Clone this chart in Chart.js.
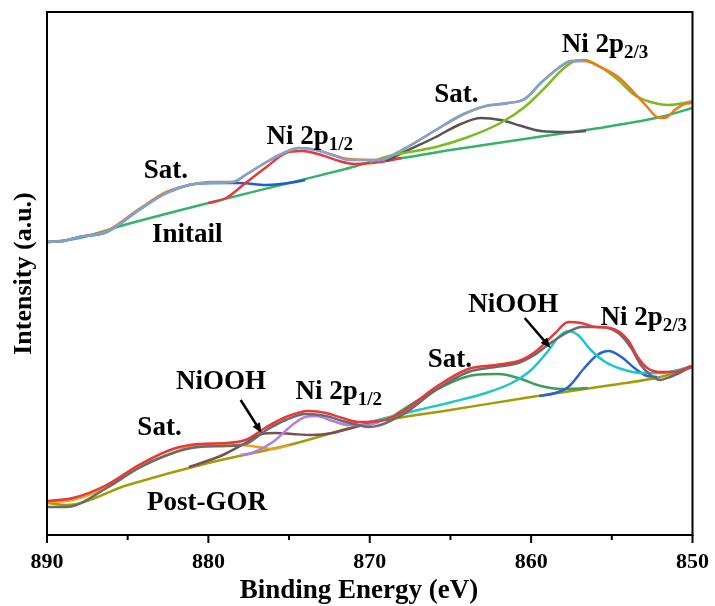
<!DOCTYPE html>
<html lang="en">
<head>
  <meta charset="UTF-8">
  <title>Ni 2p XPS</title>
  <style>
    html, body { margin: 0; padding: 0; background: #fff; overflow: hidden; }
    canvas { display: block; }
  </style>
  <script src="https://cdn.jsdelivr.net/npm/chart.js"></script>
</head>
<body>
  <canvas id="xps" width="715" height="606"></canvas>
  <script>
    // binding energy ticks (eV)
    const energyTicks = [890, 880, 870, 860, 850];

    // ---- Initial sample: [energy, intensity a.u.] ----
    const initBg = [[890,293],[889.2,294],[888,297],[885,311],[880,332],[875,352],[871.5,366],[869.4,375],[868,377],[865,385],[860,397],[855,409],[852,418],[850,427]];
    const initRaw = [[890,293],[889,294],[888,298],[886.3,304],[884.3,326],[882.6,343],[881.2,350],[879.8,353],[878.5,353],[877.7,360],[876.4,373],[875.2,383],[874.4,387],[873.3,385],[872.3,380],[871.3,376],[869.4,375],[868,385],[865.9,405],[864.3,420],[862.8,429],[861.4,432],[860.4,436],[859.4,452],[858.3,467],[857.5,474],[856.7,474],[855.7,468],[854.6,458],[853.6,442],[852.8,428],[852.2,418],[851.7,417],[851.1,425],[850.5,431],[850,432]];
    const initFit = [[890,293],[889,294],[888,298],[886.3,303],[884.3,325],[882.6,342],[881.2,350],[879.8,352],[878.5,353],[877.7,360],[876.4,373],[875.2,383],[874.4,387],[873.3,385],[872.3,380],[871.3,375],[869.4,375],[868,385],[865.9,405],[864.3,420],[862.8,429],[861.4,432],[860.4,436],[859.4,452],[858.3,467],[857.5,474],[856.7,474]];
    const initSat1 = [[890,293],[889,294],[888,298],[886.3,303],[884.3,325],[882.6,342],[881.2,350],[879.8,352],[878.1,352],[876.4,350],[874.6,353],[874,355]];
    const initP12 = [[880,332],[878.9,337],[877.7,352],[876.4,368],[875.2,382],[874.2,384],[873,380],[871.9,374],[870.9,371],[869.4,373],[868,377]];
    const initSat2 = [[869,374],[868,382],[865.9,398],[864.5,410],[863.1,417],[861.9,415],[860.6,409],[859.4,404],[857.7,403],[856.6,404]];
    const initP32 = [[870,373],[868.8,379],[865.9,388],[863.9,398],[861.9,412],[860.4,428],[859.1,448],[858.1,465],[857.3,474],[856.7,475],[855.7,468],[854.6,455],[853.6,440],[852.6,433],[851.5,430],[850.5,432],[850,434]];

    // ---- Post-GOR sample ----
    const postBg = [[890,32],[888.8,30],[885,50],[880,72],[875,90],[870,112],[865,125],[860,138],[855,150],[852,158],[850,168]];
    const postRaw = [[890,28],[888.8,28],[886.3,47],[884.3,67],[882.2,82],[880.6,88],[878.9,89],[877.7,91],[876.4,105],[875.2,115],[874,121],[872.7,119],[871.7,114],[870.7,110],[870.1,108],[868,120],[865.9,145],[863.9,163],[862.2,168],[860.8,172],[859.8,180],[858.8,192],[857.7,203],[856.9,208],[855.7,208],[854.6,202],[853.8,187],[853.2,170],[852.6,160],[852,155],[851.4,158],[850.7,163],[850.1,168]];
    const postFit = [[890,34],[888.4,37],[886.3,50],[884.3,70],[882.2,86],[880.6,91],[878.9,92],[877.7,95],[876.4,108],[875.2,118],[873.8,124],[872.7,122],[871.7,117],[870.7,113],[869.4,114],[868,123],[865.9,148],[863.9,166],[862.2,170],[860.6,175],[859.6,185],[858.5,202],[857.7,213],[856.9,212],[856,208],[855.1,207],[854,195],[853.4,178],[852.8,167],[852,163],[851.1,163],[850.1,169]];
    const postSat1 = [[890,33],[888.4,35],[886.3,48],[884.3,68],[882.2,82],[881.2,88],[879.8,90],[878.1,90],[876.9,88],[876,86],[875,90]];
    const postNiOOH12 = [[881.2,68],[879.1,80],[877.7,92],[876.7,101],[875.8,102],[874.8,101],[873.6,100],[872.3,102],[870.9,108],[869.9,112]];
    const postP12 = [[878,80],[877.3,82],[876,93],[874.8,110],[874,118],[873.3,119],[872.3,114],[871.3,110],[870.2,110],[869.4,113]];
    const postSat2 = [[869,114],[867,135],[864.9,153],[863.5,160],[862,161],[860.8,157],[859.4,149],[858.1,146],[856.5,147]];
    const postNiOOH32 = [[870,113],[869,117],[867,125],[864.9,133],[862.8,142],[861.2,152],[860,165],[859,183],[858.3,198],[857.7,204],[857.1,200],[856.3,185],[855.4,173],[854.4,166],[853.2,162],[852,162],[850.9,165],[850,169]];
    const postP32 = [[859.5,139],[858.5,142],[857.7,148],[856.7,167],[855.9,180],[855.2,184],[854.4,178],[853.6,167],[852.8,159],[852.2,158]];

    // text labels and arrows (placed in data units)
    const labels = [
      { text: 'Ni 2p', sub: '2/3', e: 858.1, v: 490 },
      { text: 'Sat.', e: 866.0, v: 440 },
      { text: 'Ni 2p', sub: '1/2', e: 876.4, v: 398 },
      { text: 'Sat.', e: 884.0, v: 364 },
      { text: 'Initail', e: 883.5, v: 300 },
      { text: 'NiOOH', e: 882.0, v: 153 },
      { text: 'Ni 2p', sub: '1/2', e: 874.6, v: 143 },
      { text: 'Sat.', e: 884.4, v: 107 },
      { text: 'Post-GOR', e: 883.8, v: 32 },
      { text: 'NiOOH', e: 863.9, v: 230 },
      { text: 'Sat.', e: 866.4, v: 175 },
      { text: 'Ni 2p', sub: '2/3', e: 855.7, v: 217 }
    ];
    const arrows = [
      { from: [878.0, 135], to: [876.7, 102] },
      { from: [860.4, 217], to: [858.8, 187] }
    ];

    function toXY(arr) {
      return arr.map(p => ({ x: p[0], y: p[1] }));
    }

    function serie(data, color) {
      return {
        data: toXY(data),
        borderColor: color,
        borderWidth: 2.5,
        pointRadius: 0,
        fill: false,
        cubicInterpolationMode: 'monotone'
      };
    }

    const SERIF = "'Liberation Serif', 'Times New Roman', serif";

    const decor = {
      id: 'decor',
      afterDraw(chart) {
        const { ctx, chartArea: a, scales: { x, y } } = chart;
        ctx.save();
        ctx.strokeStyle = '#000';
        ctx.lineWidth = 2;
        ctx.strokeRect(a.left, a.top, a.right - a.left, a.bottom - a.top);
        // tick marks, major every 10, minor every 5
        for (let e = 850; e <= 890; e += 5) {
          const px = x.getPixelForValue(e);
          ctx.beginPath();
          ctx.moveTo(px, a.bottom);
          ctx.lineTo(px, a.bottom + (e % 10 === 0 ? 8 : 5));
          ctx.stroke();
        }
        ctx.fillStyle = '#000';
        // x axis title
        ctx.textAlign = 'center';
        ctx.textBaseline = 'middle';
        ctx.font = 'bold 27px ' + SERIF;
        ctx.fillText('Binding Energy (eV)', 359, 591);
        // labels
        ctx.textAlign = 'left';
        labels.forEach(l => {
          const px = x.getPixelForValue(l.e);
          const py = y.getPixelForValue(l.v);
          ctx.font = 'bold 27px ' + SERIF;
          ctx.fillText(l.text, px, py);
          if (l.sub) {
            const w = ctx.measureText(l.text).width;
            ctx.font = 'bold 19px ' + SERIF;
            ctx.fillText(l.sub, px + w, py + 8);
          }
        });
        // arrows
        ctx.lineWidth = 2.5;
        arrows.forEach(ar => {
          const x0 = x.getPixelForValue(ar.from[0]), y0 = y.getPixelForValue(ar.from[1]);
          const x1 = x.getPixelForValue(ar.to[0]), y1 = y.getPixelForValue(ar.to[1]);
          const ang = Math.atan2(y1 - y0, x1 - x0);
          const hl = 11;
          ctx.beginPath();
          ctx.moveTo(x0, y0);
          ctx.lineTo(x1 - Math.cos(ang) * hl * 0.7, y1 - Math.sin(ang) * hl * 0.7);
          ctx.stroke();
          ctx.beginPath();
          ctx.moveTo(x1, y1);
          ctx.lineTo(x1 - hl * Math.cos(ang - 0.4), y1 - hl * Math.sin(ang - 0.4));
          ctx.lineTo(x1 - hl * Math.cos(ang + 0.4), y1 - hl * Math.sin(ang + 0.4));
          ctx.closePath();
          ctx.fill();
        });
        ctx.restore();
      }
    };

    new Chart(document.getElementById('xps'), {
      type: 'line',
      data: {
        datasets: [
          // first dataset is drawn on top
          serie(initFit, '#7ba3d3'),
          serie(initRaw, '#f07a1c'),
          serie(initP32, '#7bbb1e'),
          serie(initSat2, '#555555'),
          serie(initP12, '#e63a3d'),
          serie(initSat1, '#1f5fd2'),
          serie(initBg, '#35b36a'),
          serie(postFit, '#e8383a'),
          serie(postRaw, '#6b6b6b'),
          serie(postNiOOH32, '#22c5c8'),
          serie(postP32, '#2a62d0'),
          serie(postSat2, '#3c9e58'),
          serie(postP12, '#b27ee0'),
          serie(postNiOOH12, '#7a4f52'),
          serie(postSat1, '#e8a21e'),
          serie(postBg, '#a39c06')
        ]
      },
      options: {
        responsive: false,
        animation: false,
        devicePixelRatio: 1,
        layout: { padding: { top: 12, right: 20, left: 0, bottom: 0 } },
        plugins: { legend: { display: false }, tooltip: { enabled: false } },
        scales: {
          x: {
            type: 'linear',
            reverse: true,
            min: 850,
            max: 890,
            afterFit: s => { s.height = 71; },
            afterBuildTicks: s => { s.ticks = energyTicks.map(v => ({ value: v })); },
            ticks: {
              color: '#000',
              padding: 6,
              maxRotation: 0,
              font: { family: SERIF, size: 22, weight: 'bold' }
            },
            grid: { display: false, drawTicks: true, tickLength: 8 },
            border: { display: false },
            title: { display: false }
          },
          y: {
            min: 0,
            max: 523,
            afterFit: s => { s.width = 47; },
            ticks: { display: false },
            grid: { display: false },
            border: { display: false },
            title: {
              display: true,
              text: 'Intensity (a.u.)',
              color: '#000',
              padding: 11,
              font: { family: SERIF, size: 26, weight: 'bold', lineHeight: 1 }
            }
          }
        }
      },
      plugins: [decor]
    });
  </script>
</body>
</html>
